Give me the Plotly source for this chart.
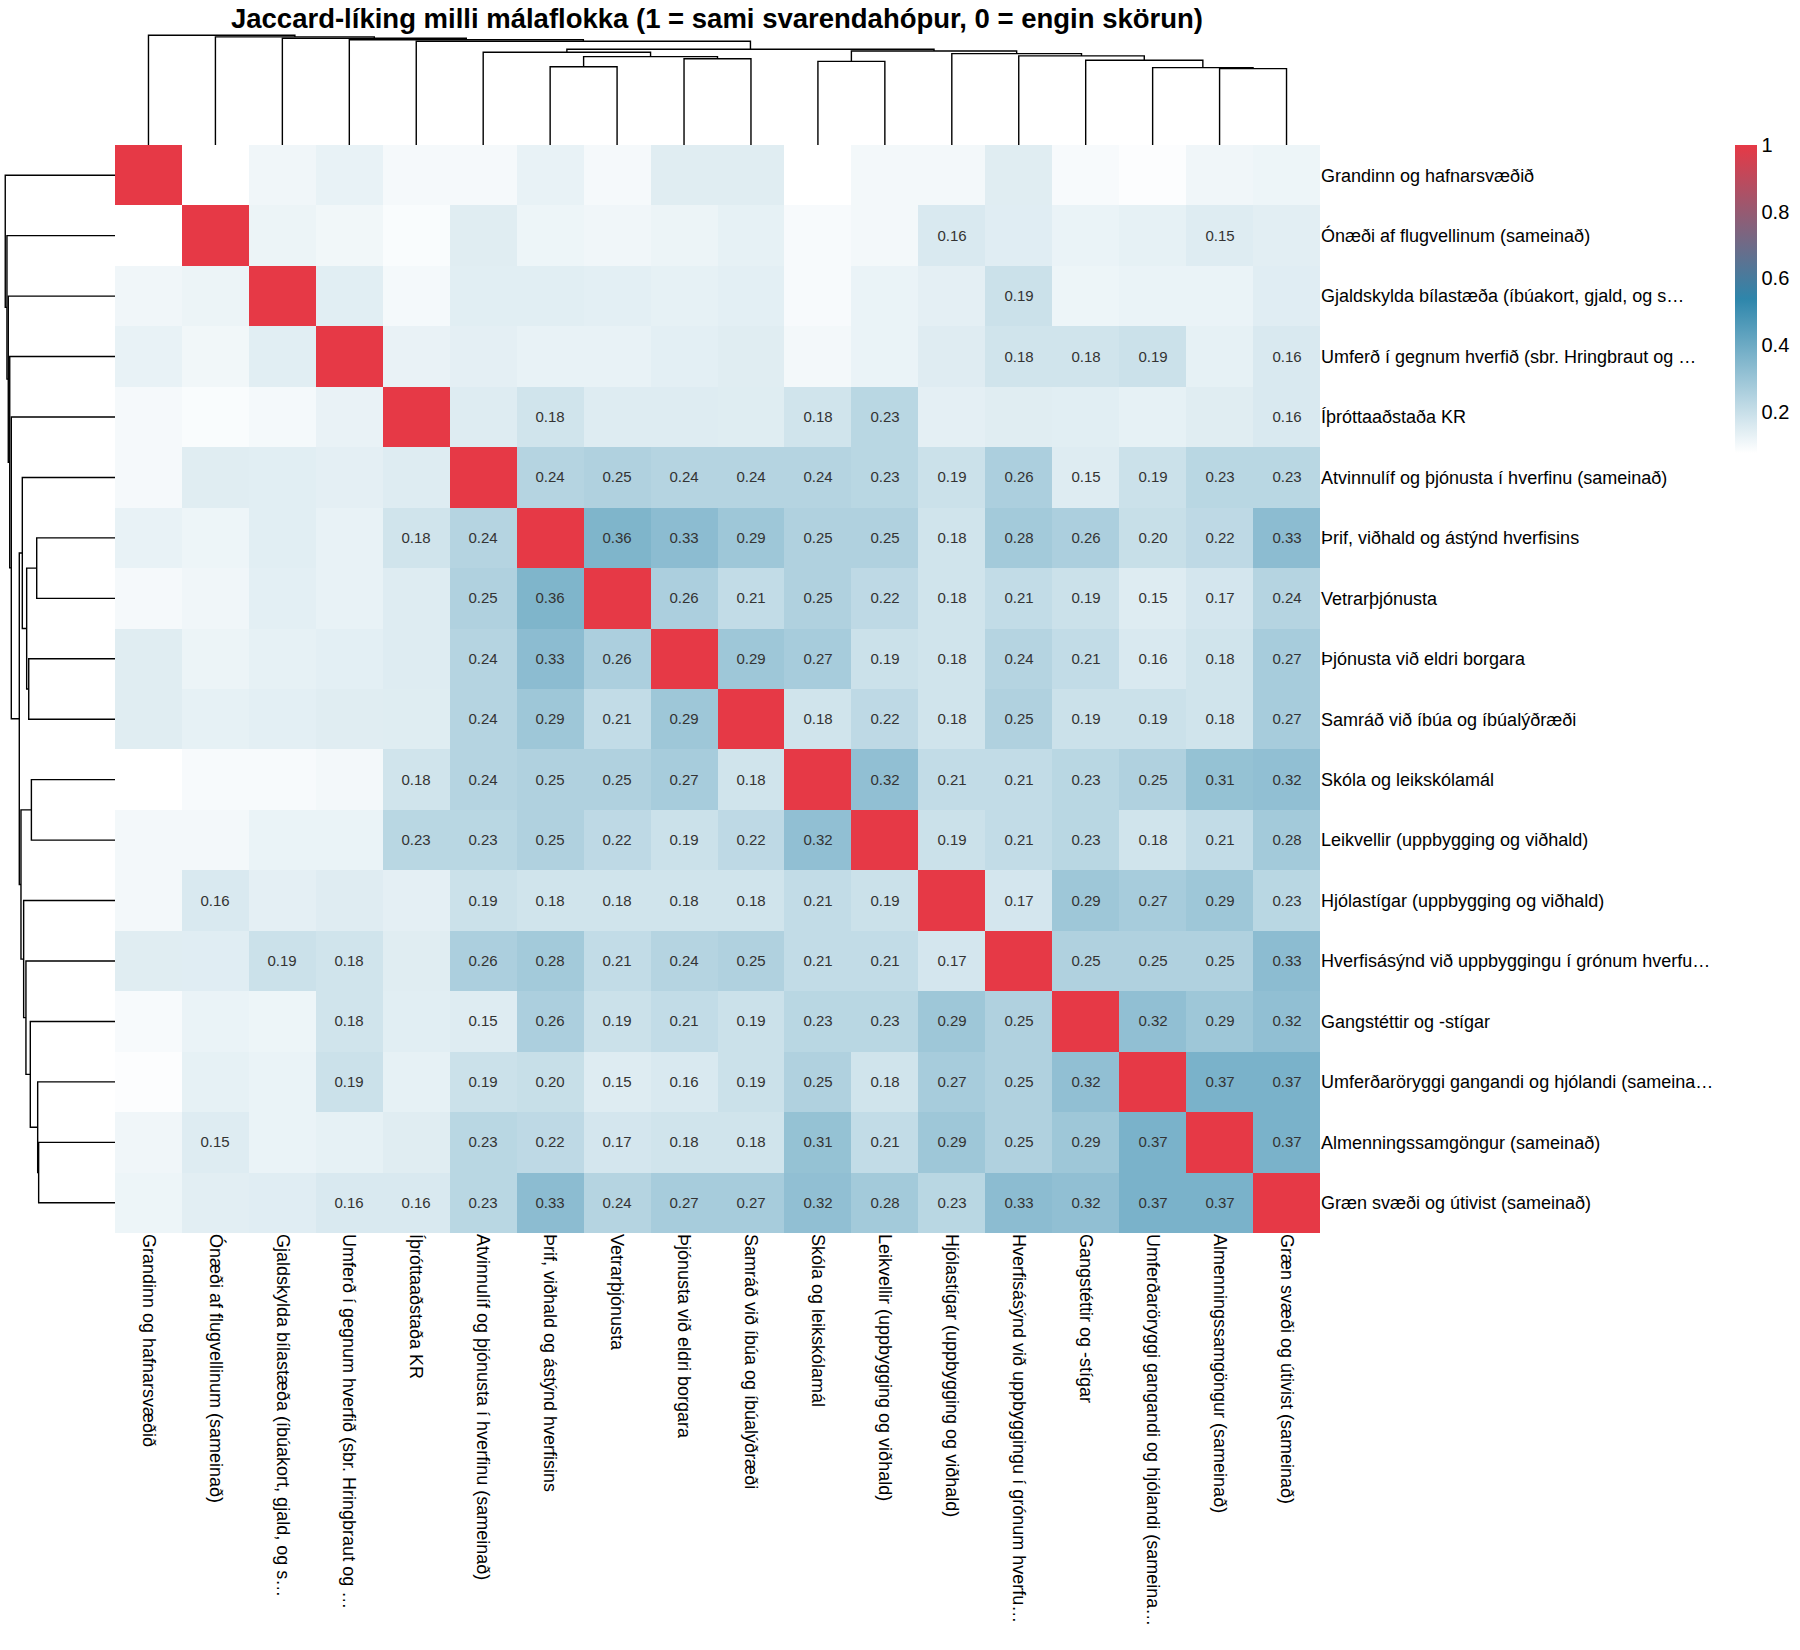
import plotly.graph_objects as go

# Málaflokkar, í sömu röð og þyrpingartréð raðar þeim
labels = [
    "Grandinn og hafnarsvæðið",
    "Ónæði af flugvellinum (sameinað)",
    "Gjaldskylda bílastæða (íbúakort, gjald, og s…",
    "Umferð í gegnum hverfið (sbr. Hringbraut og …",
    "Íþróttaaðstaða KR",
    "Atvinnulíf og þjónusta í hverfinu (sameinað)",
    "Þrif, viðhald og ástýnd hverfisins",
    "Vetrarþjónusta",
    "Þjónusta við eldri borgara",
    "Samráð við íbúa og íbúalýðræði",
    "Skóla og leikskólamál",
    "Leikvellir (uppbygging og viðhald)",
    "Hjólastígar (uppbygging og viðhald)",
    "Hverfisásýnd við uppbyggingu í grónum hverfu…",
    "Gangstéttir og -stígar",
    "Umferðaröryggi gangandi og hjólandi (sameina…",
    "Almenningssamgöngur (sameinað)",
    "Græn svæði og útivist (sameinað)",
]

# Jaccard-líking (samhverft fylki)
jaccard = [
    [1.00, 0.076, 0.109, 0.127, 0.098, 0.098, 0.127, 0.098, 0.145, 0.145, 0.076, 0.102, 0.102, 0.145, 0.094, 0.083, 0.109, 0.116],
    [0.076, 1.00, 0.118, 0.107, 0.089, 0.145, 0.116, 0.109, 0.118, 0.131, 0.094, 0.102, 0.16, 0.144, 0.122, 0.131, 0.15, 0.14],
    [0.109, 0.118, 1.00, 0.142, 0.100, 0.142, 0.142, 0.138, 0.131, 0.138, 0.094, 0.122, 0.136, 0.19, 0.116, 0.122, 0.122, 0.144],
    [0.127, 0.107, 0.142, 1.00, 0.125, 0.136, 0.127, 0.127, 0.138, 0.145, 0.102, 0.122, 0.147, 0.18, 0.18, 0.19, 0.131, 0.16],
    [0.098, 0.089, 0.100, 0.125, 1.00, 0.148, 0.18, 0.148, 0.148, 0.146, 0.18, 0.23, 0.136, 0.145, 0.142, 0.131, 0.145, 0.16],
    [0.098, 0.145, 0.142, 0.136, 0.148, 1.00, 0.24, 0.25, 0.24, 0.24, 0.24, 0.23, 0.19, 0.26, 0.15, 0.19, 0.23, 0.23],
    [0.127, 0.116, 0.142, 0.127, 0.18, 0.24, 1.00, 0.36, 0.33, 0.29, 0.25, 0.25, 0.18, 0.28, 0.26, 0.20, 0.22, 0.33],
    [0.098, 0.109, 0.138, 0.127, 0.148, 0.25, 0.36, 1.00, 0.26, 0.21, 0.25, 0.22, 0.18, 0.21, 0.19, 0.15, 0.17, 0.24],
    [0.145, 0.118, 0.131, 0.138, 0.148, 0.24, 0.33, 0.26, 1.00, 0.29, 0.27, 0.19, 0.18, 0.24, 0.21, 0.16, 0.18, 0.27],
    [0.145, 0.131, 0.138, 0.145, 0.146, 0.24, 0.29, 0.21, 0.29, 1.00, 0.18, 0.22, 0.18, 0.25, 0.19, 0.19, 0.18, 0.27],
    [0.076, 0.094, 0.094, 0.102, 0.18, 0.24, 0.25, 0.25, 0.27, 0.18, 1.00, 0.32, 0.21, 0.21, 0.23, 0.25, 0.31, 0.32],
    [0.102, 0.102, 0.122, 0.122, 0.23, 0.23, 0.25, 0.22, 0.19, 0.22, 0.32, 1.00, 0.19, 0.21, 0.23, 0.18, 0.21, 0.28],
    [0.102, 0.16, 0.136, 0.147, 0.136, 0.19, 0.18, 0.18, 0.18, 0.18, 0.21, 0.19, 1.00, 0.17, 0.29, 0.27, 0.29, 0.23],
    [0.145, 0.144, 0.19, 0.18, 0.145, 0.26, 0.28, 0.21, 0.24, 0.25, 0.21, 0.21, 0.17, 1.00, 0.25, 0.25, 0.25, 0.33],
    [0.094, 0.122, 0.116, 0.18, 0.142, 0.15, 0.26, 0.19, 0.21, 0.19, 0.23, 0.23, 0.29, 0.25, 1.00, 0.32, 0.29, 0.32],
    [0.083, 0.131, 0.122, 0.19, 0.131, 0.19, 0.20, 0.15, 0.16, 0.19, 0.25, 0.18, 0.27, 0.25, 0.32, 1.00, 0.37, 0.37],
    [0.109, 0.15, 0.122, 0.131, 0.145, 0.23, 0.22, 0.17, 0.18, 0.18, 0.31, 0.21, 0.29, 0.25, 0.29, 0.37, 1.00, 0.37],
    [0.116, 0.14, 0.144, 0.16, 0.16, 0.23, 0.33, 0.24, 0.27, 0.27, 0.32, 0.28, 0.23, 0.33, 0.32, 0.37, 0.37, 1.00],
]

# Þyrpingartré (average linkage á 1 - Jaccard): nýr hnútur fær númer 18 + röð
link_left = [16, 6, 10, 15, 8, 14, 19, 13, 12, 5, 20, 27, 4, 3, 2, 1, 0]
link_right = [17, 7, 11, 18, 9, 21, 22, 23, 25, 24, 26, 28, 29, 30, 31, 32, 33]
link_height = [0.631, 0.647, 0.691, 0.639, 0.713, 0.700, 0.730, 0.736, 0.755,
               0.766, 0.777, 0.791, 0.857, 0.870, 0.882, 0.893, 0.907]

colorbar_ticks = [0.2, 0.4, 0.6, 0.8, 1.0]
colorbar_ticktext = ["0.2", "0.4", "0.6", "0.8", "1"]

FONT = "Liberation Sans, Arial, Helvetica, sans-serif"
W, H = 1800, 1650
n = len(labels)


def px_x(x):
    return x / W


def px_y(y):
    return 1 - y / H


def dendro_lines(left, right, height, n_leaves):
    pos = {i: float(i) for i in range(n_leaves)}
    hgt = {i: 0.0 for i in range(n_leaves)}
    xs, ys = [], []
    for k, (a, b, h) in enumerate(zip(left, right, height)):
        xs += [pos[a], pos[a], pos[b], pos[b], None]
        ys += [hgt[a], h, h, hgt[b], None]
        pos[n_leaves + k] = (pos[a] + pos[b]) / 2
        hgt[n_leaves + k] = h
    return xs, ys


# texti aðeins í reitum >= 0.15 (ekki á hornalínu)
cell_text = [
    [f"{v:.2f}" if (i != j and v >= 0.15) else "" for j, v in enumerate(row)]
    for i, row in enumerate(jaccard)
]

fig = go.Figure()

fig.add_trace(go.Heatmap(
    z=jaccard,
    x=list(range(n)),
    y=list(range(n)),
    text=cell_text,
    texttemplate="%{text}",
    textfont=dict(size=15, color="#333333", family=FONT),
    colorscale=[[0, "#FFFFFF"], [0.5, "#2E86AB"], [1, "#E63946"]],
    zmax=1,
    colorbar=dict(
        x=px_x(1735), xanchor="left", y=px_y(145), yanchor="top",
        lenmode="pixels", len=308, thickness=22, outlinewidth=0,
        xpad=0, ypad=0, tickvals=colorbar_ticks, ticktext=colorbar_ticktext,
        tickfont=dict(size=20, family=FONT, color="#000000"),
    ),
    hovertemplate="%{z:.2f}<extra></extra>",
))

dx, dy = dendro_lines(link_left, link_right, link_height, n)
line_style = dict(color="#000000", width=1.4)
fig.add_trace(go.Scatter(x=dx, y=dy, mode="lines", line=line_style,
                         xaxis="x2", yaxis="y2", hoverinfo="skip", showlegend=False))
fig.add_trace(go.Scatter(x=dy, y=dx, mode="lines", line=line_style,
                         xaxis="x3", yaxis="y3", hoverinfo="skip", showlegend=False))

x_dom = [px_x(115), px_x(1320)]
y_dom = [px_y(1233), px_y(145)]
hidden = dict(visible=False, showgrid=False, zeroline=False)

fig.update_layout(
    width=W, height=H,
    margin=dict(l=0, r=0, t=0, b=0),
    paper_bgcolor="white", plot_bgcolor="white",
    font=dict(family=FONT, color="#000000"),
    hovermode=False,
    title=dict(
        text="Jaccard-líking milli málaflokka (1 = sami svarendahópur, 0 = engin skörun)",
        x=px_x(717), xanchor="center", y=px_y(18), yanchor="middle",
        font=dict(size=27.5, family=FONT, weight="bold", color="#000000"),
    ),
    xaxis=dict(domain=x_dom, range=[-0.5, n - 0.5], tickvals=list(range(n)),
               ticktext=labels, tickangle=90, ticks="", showgrid=False,
               zeroline=False, tickfont=dict(size=18), anchor="y"),
    yaxis=dict(domain=y_dom, range=[n - 0.5, -0.5], tickvals=list(range(n)),
               ticktext=labels, side="right", ticks="", showgrid=False,
               zeroline=False, tickfont=dict(size=18), anchor="x"),
    xaxis2=dict(domain=x_dom, range=[-0.5, n - 0.5], anchor="y2", **hidden),
    yaxis2=dict(domain=[px_y(145), px_y(30)], range=[0, 0.95], anchor="x2", **hidden),
    xaxis3=dict(domain=[0, px_x(115)], range=[115 / 121, 0], anchor="y3", **hidden),
    yaxis3=dict(domain=y_dom, range=[n - 0.5, -0.5], anchor="x3", **hidden),
)

# síðan sjálf hefur 8px spássíu; hún er tekin burt svo myndin fylli gluggann
fig.write_html("out.html", config={"displayModeBar": False},
               post_script="document.body.style.margin='0px';")
